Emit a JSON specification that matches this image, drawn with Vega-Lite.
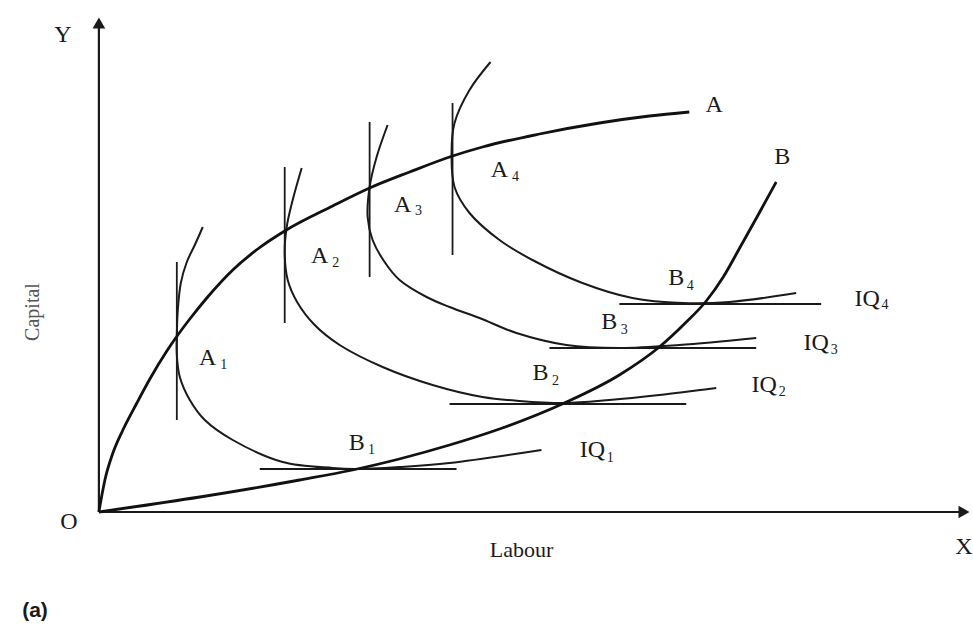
{
  "$schema": "https://vega.github.io/schema/vega-lite/v6.json",
  "width": 973,
  "height": 625,
  "autosize": {"type": "fit", "contains": "padding"},
  "padding": 0,
  "background": "white",
  "config": {"view": {"stroke": null}},
  "datasets": {
    "axes": [
      {"axis": "Y", "order": 0, "labour": 1, "capital": 1},
      {"axis": "Y", "order": 1, "labour": 1, "capital": 490},
      {"axis": "X", "order": 0, "labour": 1, "capital": 1},
      {"axis": "X", "order": 1, "labour": 864, "capital": 1}
    ],
    "arrows": [
      {"axis": "Y", "labour": 1, "capital": 490, "shape": "triangle-up"},
      {"axis": "X", "labour": 867, "capital": 1, "shape": "triangle-right"}
    ],
    "ridges": [
      {"ridge": "OA", "order": 0, "labour": 1, "capital": 1},
      {"ridge": "OA", "order": 1, "labour": 4, "capital": 18},
      {"ridge": "OA", "order": 2, "labour": 7, "capital": 33},
      {"ridge": "OA", "order": 3, "labour": 15, "capital": 60},
      {"ridge": "OA", "order": 4, "labour": 25, "capital": 83},
      {"ridge": "OA", "order": 5, "labour": 39, "capital": 110},
      {"ridge": "OA", "order": 6, "labour": 52, "capital": 134},
      {"ridge": "OA", "order": 7, "labour": 69, "capital": 162},
      {"ridge": "OA", "order": 8, "labour": 80, "capital": 178},
      {"ridge": "OA", "order": 9, "labour": 92, "capital": 194},
      {"ridge": "OA", "order": 10, "labour": 109, "capital": 215},
      {"ridge": "OA", "order": 11, "labour": 135, "capital": 243},
      {"ridge": "OA", "order": 12, "labour": 160, "capital": 264},
      {"ridge": "OA", "order": 13, "labour": 187, "capital": 282},
      {"ridge": "OA", "order": 14, "labour": 235, "capital": 307},
      {"ridge": "OA", "order": 15, "labour": 272, "capital": 325},
      {"ridge": "OA", "order": 16, "labour": 312, "capital": 341},
      {"ridge": "OA", "order": 17, "labour": 355, "capital": 357},
      {"ridge": "OA", "order": 18, "labour": 385, "capital": 366},
      {"ridge": "OA", "order": 19, "labour": 442, "capital": 379},
      {"ridge": "OA", "order": 20, "labour": 502, "capital": 390},
      {"ridge": "OA", "order": 21, "labour": 552, "capital": 397},
      {"ridge": "OA", "order": 22, "labour": 592, "capital": 401},
      {"ridge": "OB", "order": 0, "labour": 1, "capital": 1},
      {"ridge": "OB", "order": 1, "labour": 102, "capital": 16},
      {"ridge": "OB", "order": 2, "labour": 202, "capital": 33},
      {"ridge": "OB", "order": 3, "labour": 255, "capital": 43},
      {"ridge": "OB", "order": 4, "labour": 352, "capital": 68},
      {"ridge": "OB", "order": 5, "labour": 402, "capital": 84},
      {"ridge": "OB", "order": 6, "labour": 467, "capital": 110},
      {"ridge": "OB", "order": 7, "labour": 522, "capital": 138},
      {"ridge": "OB", "order": 8, "labour": 562, "capital": 166},
      {"ridge": "OB", "order": 9, "labour": 588, "capital": 190},
      {"ridge": "OB", "order": 10, "labour": 609, "capital": 212},
      {"ridge": "OB", "order": 11, "labour": 626, "capital": 236},
      {"ridge": "OB", "order": 12, "labour": 643, "capital": 266},
      {"ridge": "OB", "order": 13, "labour": 662, "capital": 300},
      {"ridge": "OB", "order": 14, "labour": 679, "capital": 331}
    ],
    "isoquants": [
      {"iq": "IQ1", "order": 0, "labour": 105, "capital": 286},
      {"iq": "IQ1", "order": 1, "labour": 97, "capital": 268},
      {"iq": "IQ1", "order": 2, "labour": 89, "capital": 251},
      {"iq": "IQ1", "order": 3, "labour": 83, "capital": 230},
      {"iq": "IQ1", "order": 4, "labour": 80, "capital": 203},
      {"iq": "IQ1", "order": 5, "labour": 79, "capital": 178},
      {"iq": "IQ1", "order": 6, "labour": 79, "capital": 158},
      {"iq": "IQ1", "order": 7, "labour": 82, "capital": 136},
      {"iq": "IQ1", "order": 8, "labour": 92, "capital": 113},
      {"iq": "IQ1", "order": 9, "labour": 107, "capital": 93},
      {"iq": "IQ1", "order": 10, "labour": 135, "capital": 73},
      {"iq": "IQ1", "order": 11, "labour": 185, "capital": 51},
      {"iq": "IQ1", "order": 12, "labour": 235, "capital": 45},
      {"iq": "IQ1", "order": 13, "labour": 257, "capital": 44},
      {"iq": "IQ1", "order": 14, "labour": 302, "capital": 46},
      {"iq": "IQ1", "order": 15, "labour": 352, "capital": 50},
      {"iq": "IQ1", "order": 16, "labour": 444, "capital": 63},
      {"iq": "IQ2", "order": 0, "labour": 204, "capital": 345},
      {"iq": "IQ2", "order": 1, "labour": 195, "capital": 313},
      {"iq": "IQ2", "order": 2, "labour": 189, "capital": 286},
      {"iq": "IQ2", "order": 3, "labour": 187, "capital": 260},
      {"iq": "IQ2", "order": 4, "labour": 190, "capital": 233},
      {"iq": "IQ2", "order": 5, "labour": 200, "capital": 210},
      {"iq": "IQ2", "order": 6, "labour": 217, "capital": 188},
      {"iq": "IQ2", "order": 7, "labour": 242, "capital": 168},
      {"iq": "IQ2", "order": 8, "labour": 285, "capital": 146},
      {"iq": "IQ2", "order": 9, "labour": 335, "capital": 128},
      {"iq": "IQ2", "order": 10, "labour": 385, "capital": 116},
      {"iq": "IQ2", "order": 11, "labour": 422, "capital": 112},
      {"iq": "IQ2", "order": 12, "labour": 467, "capital": 110},
      {"iq": "IQ2", "order": 13, "labour": 512, "capital": 113},
      {"iq": "IQ2", "order": 14, "labour": 562, "capital": 118},
      {"iq": "IQ2", "order": 15, "labour": 619, "capital": 125},
      {"iq": "IQ3", "order": 0, "labour": 290, "capital": 388},
      {"iq": "IQ3", "order": 1, "labour": 279, "capital": 356},
      {"iq": "IQ3", "order": 2, "labour": 272, "capital": 326},
      {"iq": "IQ3", "order": 3, "labour": 270, "capital": 296},
      {"iq": "IQ3", "order": 4, "labour": 275, "capital": 273},
      {"iq": "IQ3", "order": 5, "labour": 287, "capital": 251},
      {"iq": "IQ3", "order": 6, "labour": 302, "capital": 233},
      {"iq": "IQ3", "order": 7, "labour": 329, "capital": 216},
      {"iq": "IQ3", "order": 8, "labour": 352, "capital": 206},
      {"iq": "IQ3", "order": 9, "labour": 382, "capital": 195},
      {"iq": "IQ3", "order": 10, "labour": 419, "capital": 180},
      {"iq": "IQ3", "order": 11, "labour": 469, "capital": 168},
      {"iq": "IQ3", "order": 12, "labour": 522, "capital": 165},
      {"iq": "IQ3", "order": 13, "labour": 582, "capital": 168},
      {"iq": "IQ3", "order": 14, "labour": 659, "capital": 175},
      {"iq": "IQ4", "order": 0, "labour": 393, "capital": 451},
      {"iq": "IQ4", "order": 1, "labour": 372, "capital": 423},
      {"iq": "IQ4", "order": 2, "labour": 357, "capital": 390},
      {"iq": "IQ4", "order": 3, "labour": 354, "capital": 360},
      {"iq": "IQ4", "order": 4, "labour": 357, "capital": 326},
      {"iq": "IQ4", "order": 5, "labour": 372, "capital": 300},
      {"iq": "IQ4", "order": 6, "labour": 402, "capital": 273},
      {"iq": "IQ4", "order": 7, "labour": 435, "capital": 253},
      {"iq": "IQ4", "order": 8, "labour": 485, "capital": 230},
      {"iq": "IQ4", "order": 9, "labour": 535, "capital": 215},
      {"iq": "IQ4", "order": 10, "labour": 585, "capital": 210},
      {"iq": "IQ4", "order": 11, "labour": 632, "capital": 211},
      {"iq": "IQ4", "order": 12, "labour": 699, "capital": 220}
    ],
    "tangents": [
      {"point": "A1", "order": 0, "labour": 79, "capital": 251},
      {"point": "A1", "order": 1, "labour": 79, "capital": 93},
      {"point": "A2", "order": 0, "labour": 187, "capital": 346},
      {"point": "A2", "order": 1, "labour": 187, "capital": 190},
      {"point": "A3", "order": 0, "labour": 272, "capital": 391},
      {"point": "A3", "order": 1, "labour": 272, "capital": 236},
      {"point": "A4", "order": 0, "labour": 355, "capital": 410},
      {"point": "A4", "order": 1, "labour": 355, "capital": 258},
      {"point": "B1", "order": 0, "labour": 162, "capital": 44},
      {"point": "B1", "order": 1, "labour": 359, "capital": 44},
      {"point": "B2", "order": 0, "labour": 352, "capital": 109},
      {"point": "B2", "order": 1, "labour": 589, "capital": 109},
      {"point": "B3", "order": 0, "labour": 452, "capital": 165},
      {"point": "B3", "order": 1, "labour": 659, "capital": 165},
      {"point": "B4", "order": 0, "labour": 522, "capital": 209},
      {"point": "B4", "order": 1, "labour": 724, "capital": 209}
    ],
    "labels": [
      {"text": "Y", "labour": -35, "capital": 478},
      {"text": "O", "labour": -29, "capital": -9},
      {"text": "X", "labour": 867, "capital": -34},
      {"text": "A", "labour": 617, "capital": 408},
      {"text": "B", "labour": 685, "capital": 356},
      {"text": "A", "labour": 110, "capital": 155},
      {"text": "A", "labour": 222, "capital": 257},
      {"text": "A", "labour": 305, "capital": 308},
      {"text": "A", "labour": 402, "capital": 343},
      {"text": "B", "labour": 259, "capital": 70},
      {"text": "B", "labour": 443, "capital": 140},
      {"text": "B", "labour": 512, "capital": 191},
      {"text": "B", "labour": 579, "capital": 235},
      {"text": "IQ", "labour": 495, "capital": 63},
      {"text": "IQ", "labour": 667, "capital": 128},
      {"text": "IQ", "labour": 719, "capital": 170},
      {"text": "IQ", "labour": 770, "capital": 214}
    ],
    "subscripts": [
      {"text": "1", "labour": 126, "capital": 148},
      {"text": "2", "labour": 238, "capital": 250},
      {"text": "3", "labour": 321, "capital": 302},
      {"text": "4", "labour": 418, "capital": 336},
      {"text": "1", "labour": 274, "capital": 63},
      {"text": "2", "labour": 458, "capital": 132},
      {"text": "3", "labour": 527, "capital": 183},
      {"text": "4", "labour": 593, "capital": 227},
      {"text": "1", "labour": 513, "capital": 55},
      {"text": "2", "labour": 685, "capital": 121},
      {"text": "3", "labour": 737, "capital": 163},
      {"text": "4", "labour": 788, "capital": 208}
    ],
    "titles": [
      {"text": "Labour", "labour": 424, "capital": -37}
    ],
    "ytitle": [
      {"text": "Capital", "labour": -65, "capital": 201}
    ],
    "panel": [
      {"text": "(a)", "labour": -63, "capital": -98}
    ]
  },
  "layer": [
    {
      "data": {"name": "axes"},
      "mark": {"type": "line", "color": "#1a1a1a", "strokeWidth": 2.2},
      "encoding": {
        "x": {"field": "labour", "type": "quantitative", "scale": {"domain": [-98, 875], "nice": false, "zero": false}, "axis": null},
        "y": {"field": "capital", "type": "quantitative", "scale": {"domain": [-112, 513], "nice": false, "zero": false}, "axis": null},
        "detail": {"field": "axis"},
        "order": {"field": "order"}
      }
    },
    {
      "data": {"name": "arrows"},
      "mark": {"type": "point", "filled": true, "color": "#1a1a1a", "size": 160, "opacity": 1},
      "encoding": {
        "x": {"field": "labour", "type": "quantitative"},
        "y": {"field": "capital", "type": "quantitative"},
        "shape": {"field": "shape", "type": "nominal", "scale": null}
      }
    },
    {
      "data": {"name": "tangents"},
      "mark": {"type": "line", "color": "#1a1a1a", "strokeWidth": 1.8},
      "encoding": {
        "x": {"field": "labour", "type": "quantitative"},
        "y": {"field": "capital", "type": "quantitative"},
        "detail": {"field": "point"},
        "order": {"field": "order"}
      }
    },
    {
      "data": {"name": "isoquants"},
      "mark": {"type": "line", "color": "#1a1a1a", "strokeWidth": 2, "interpolate": "catmull-rom"},
      "encoding": {
        "x": {"field": "labour", "type": "quantitative"},
        "y": {"field": "capital", "type": "quantitative"},
        "detail": {"field": "iq"},
        "order": {"field": "order"}
      }
    },
    {
      "data": {"name": "ridges"},
      "mark": {"type": "line", "color": "#111111", "strokeWidth": 2.8, "interpolate": "monotone"},
      "encoding": {
        "x": {"field": "labour", "type": "quantitative"},
        "y": {"field": "capital", "type": "quantitative"},
        "detail": {"field": "ridge"},
        "order": {"field": "order"}
      }
    },
    {
      "data": {"name": "labels"},
      "mark": {"type": "text", "font": "Liberation Serif", "fontSize": 24, "color": "#1a1a1a", "align": "center", "baseline": "middle"},
      "encoding": {
        "x": {"field": "labour", "type": "quantitative"},
        "y": {"field": "capital", "type": "quantitative"},
        "text": {"field": "text"}
      }
    },
    {
      "data": {"name": "subscripts"},
      "mark": {"type": "text", "font": "Liberation Serif", "fontSize": 14, "color": "#1a1a1a", "align": "center", "baseline": "middle"},
      "encoding": {
        "x": {"field": "labour", "type": "quantitative"},
        "y": {"field": "capital", "type": "quantitative"},
        "text": {"field": "text"}
      }
    },
    {
      "data": {"name": "titles"},
      "mark": {"type": "text", "font": "Liberation Serif", "fontSize": 22, "color": "#1a1a1a", "align": "center", "baseline": "middle"},
      "encoding": {
        "x": {"field": "labour", "type": "quantitative"},
        "y": {"field": "capital", "type": "quantitative"},
        "text": {"field": "text"}
      }
    },
    {
      "data": {"name": "ytitle"},
      "mark": {"type": "text", "font": "Liberation Serif", "fontSize": 20, "color": "#555555", "align": "center", "baseline": "middle", "angle": 270},
      "encoding": {
        "x": {"field": "labour", "type": "quantitative"},
        "y": {"field": "capital", "type": "quantitative"},
        "text": {"field": "text"}
      }
    },
    {
      "data": {"name": "panel"},
      "mark": {"type": "text", "font": "Liberation Sans", "fontWeight": "bold", "fontSize": 21, "color": "#1a1a1a", "align": "center", "baseline": "middle"},
      "encoding": {
        "x": {"field": "labour", "type": "quantitative"},
        "y": {"field": "capital", "type": "quantitative"},
        "text": {"field": "text"}
      }
    }
  ]
}
